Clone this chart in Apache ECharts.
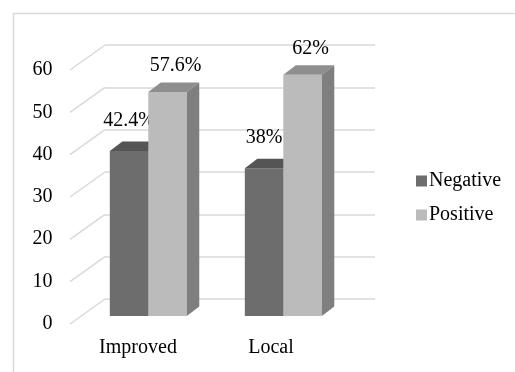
<!DOCTYPE html>
<html>
<head>
<meta charset="utf-8">
<script src="https://cdn.jsdelivr.net/npm/echarts@6/dist/echarts.min.js"></script>
<style>
  html, body { margin: 0; padding: 0; background: #fff; }
  #main { width: 515px; height: 372px; }
</style>
</head>
<body>
<div id="main"></div>
<script>
const categories = ['Improved', 'Local'];
const negative = [42.4, 38];
const positive = [57.6, 62];
const yTicks = [0, 10, 20, 30, 40, 50, 60];

const chart = echarts.init(document.getElementById('main'));
const serif = '"Times New Roman", "Liberation Serif", "DejaVu Serif", serif';

// fake 3D depth of the bars and of the floor
const barDepth = [12.5, 9.5];
const floorDepth = [35, 25];

function boxItem(sign, labelDx, labelDy, front, top, side) {
    return function (params, api) {
        const idx = api.value(0);
        const val = api.value(1);
        const p = api.coord([idx, val]);
        const b = api.coord([idx, 0]);
        const w = api.size([1, 0])[0] * 0.285;
        const x = sign < 0 ? p[0] - w : p[0];
        const [dx, dy] = barDepth;
        return {
            type: 'group',
            children: [
                { type: 'rect', shape: { x: x, y: p[1], width: w, height: b[1] - p[1] }, style: { fill: front } },
                { type: 'polygon', shape: { points: [[x, p[1]], [x + w, p[1]], [x + w + dx, p[1] - dy], [x + dx, p[1] - dy]] }, style: { fill: top } },
                { type: 'polygon', shape: { points: [[x + w, p[1]], [x + w + dx, p[1] - dy], [x + w + dx, b[1] - dy], [x + w, b[1]]] }, style: { fill: side } },
                {
                    type: 'text',
                    style: {
                        text: val + '%', x: x + w / 2 + labelDx, y: p[1] + labelDy,
                        align: 'center', verticalAlign: 'middle',
                        fontFamily: serif, fontSize: 20, fill: '#000'
                    }
                }
            ]
        };
    };
}

const option = {
    animation: false,
    backgroundColor: '#fff',
    graphic: [{
        type: 'rect', shape: { x: 13.5, y: 13.5, width: 520, height: 380 },
        style: { fill: 'none', stroke: '#d9d9d9', lineWidth: 1.5 }, silent: true
    }],
    legend: {
        orient: 'vertical', left: 411, top: 166,
        itemWidth: 11, itemHeight: 11, itemGap: 14,
        icon: 'rect',
        textStyle: { fontFamily: serif, fontSize: 20, color: '#000', padding: [0, 0, 0, -3] },
        data: ['Negative', 'Positive']
    },
    grid: [
        // back wall
        { left: 105, right: 140, top: 45, bottom: 73 },
        // front axis with the labels
        { left: 71.5, right: 177.5, top: 70, bottom: 48.5 },
        // bars
        { left: 80.8, right: 164.2, top: 82.6, bottom: 56 }
    ],
    xAxis: [
        { gridIndex: 0, type: 'category', data: categories, show: false },
        {
            gridIndex: 1, type: 'category', data: categories,
            axisLine: { show: false }, axisTick: { show: false },
            axisLabel: { fontFamily: serif, fontSize: 20, color: '#000', margin: 14 }
        },
        { gridIndex: 2, type: 'category', data: categories, show: false }
    ],
    yAxis: [
        {
            gridIndex: 0, type: 'value', min: 0, max: 60, interval: 10,
            axisLabel: { show: false }, axisLine: { show: false }, axisTick: { show: false },
            splitLine: { lineStyle: { color: '#d9d9d9', width: 1.5 } }
        },
        {
            gridIndex: 1, type: 'value', min: 0, max: 60, interval: 10,
            axisLine: { show: false }, axisTick: { show: false }, splitLine: { show: false },
            axisLabel: { fontFamily: serif, fontSize: 20, color: '#000', margin: 19 }
        },
        { gridIndex: 2, type: 'value', min: 0, max: 60, show: false, splitLine: { show: false } }
    ],
    series: [
        {
            // floor diagonals from the back wall to the front axis
            type: 'custom', xAxisIndex: 0, yAxisIndex: 0, silent: true,
            data: yTicks.map(v => [0, v]),
            renderItem: function (params, api) {
                const y = api.coord([0, api.value(1)])[1];
                const x0 = params.coordSys.x;
                return {
                    type: 'line',
                    shape: { x1: x0 - floorDepth[0], y1: y + floorDepth[1], x2: x0, y2: y },
                    style: { stroke: '#d9d9d9', lineWidth: 1.5 }
                };
            }
        },
        {
            name: 'Negative', type: 'custom', xAxisIndex: 2, yAxisIndex: 2,
            itemStyle: { color: '#6d6d6d' },
            data: negative.map((v, i) => [i, v]),
            renderItem: boxItem(-1, 0, -30, '#6d6d6d', '#555555', '#5a5a5a')
        },
        {
            name: 'Positive', type: 'custom', xAxisIndex: 2, yAxisIndex: 2,
            itemStyle: { color: '#bbbbbb' },
            data: positive.map((v, i) => [i, v]),
            renderItem: boxItem(1, 8, -26, '#bbbbbb', '#8e8e8e', '#7f7f7f')
        }
    ]
};

chart.setOption(option);
window.addEventListener('resize', () => chart.resize());
</script>
</body>
</html>
